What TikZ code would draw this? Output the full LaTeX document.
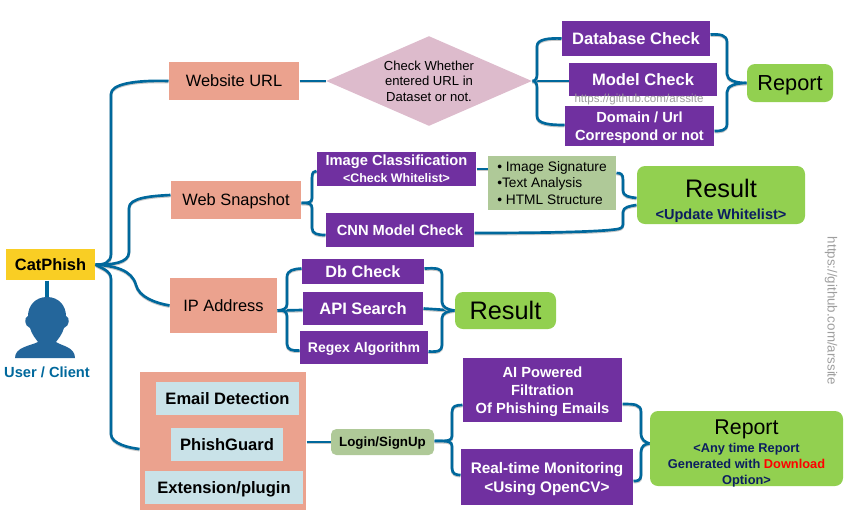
\documentclass[tikz,border=0pt]{standalone}
\usepackage{fontspec}
\setmainfont{Liberation Sans}
\usetikzlibrary{shapes.geometric,calc}
\definecolor{linkblue}{RGB}{0,104,156}
\definecolor{salmon}{RGB}{235,162,142}
\definecolor{plum}{RGB}{112,48,160}
\definecolor{leaf}{RGB}{146,208,80}
\definecolor{sage}{RGB}{175,201,152}
\definecolor{pale}{RGB}{201,226,232}
\definecolor{mauve}{RGB}{221,187,204}
\definecolor{gold}{RGB}{249,206,36}
\definecolor{navy}{RGB}{12,30,96}
\definecolor{iconblue}{RGB}{36,102,155}
\newcommand{\fz}[2]{\fontsize{#1}{#2}\selectfont}
\tikzset{
  every picture/.style={line width=0.75pt},
  size/.style 2 args={minimum width=#1*0.75pt,minimum height=#2*0.75pt,inner sep=0pt,align=center,text depth=0pt},
  salmonbox/.style={fill=salmon,font=\fz{12.3}{14}},
  plumbox/.style={fill=plum,text=white,font=\fz{11}{13.7}\bfseries},
  paleitem/.style={fill=pale,font=\fz{12.4}{15}\bfseries},
  leafbox/.style={fill=leaf,rounded corners=6pt},
  link/.style={draw=linkblue,line width=2pt,line join=round,
    preaction={draw=black!22,line width=2pt,transform canvas={yshift=-0.8pt}}},
  mark text/.style={text=black!38,inner sep=0pt},
}

\begin{document}
\begin{tikzpicture}[x=0.75pt,y=0.75pt,yscale=-1]
\useasboundingbox (0,0) rectangle (848,522);

% Text Node
\node (catphish) [size={89}{31},fill=gold,font=\fz{12.3}{14}\bfseries] at (50.5,264.5) {CatPhish};
\node (website) [salmonbox,size={130}{38}] at (234,81) {Website URL};
\node (snapshot) [salmonbox,size={130}{38}] at (236,200) {Web Snapshot};
\node (ipaddr) [salmonbox,size={107}{55}] at (223.5,305.5) {IP Address};
\node (outerbox) [fill=salmon,size={166}{138}] at (223,441) {};
\node (email) [paleitem,size={143}{33}] at (227.5,398.5) {Email Detection};
\node (guard) [paleitem,size={112}{33}] at (227,444.5) {PhishGuard};
\node (plugin) [paleitem,size={158}{33}] at (224,487.5) {Extension/plugin};

\node (decision) [diamond,aspect=2.28,fill=mauve,size={206}{90},font=\fz{9.8}{11.6}] at (429,81) {Check Whether\\entered URL in\\Dataset or not.};
\node (dbcheck) [plumbox,size={148}{35},font=\fz{12.4}{15}\bfseries] at (636,38.5) {Database Check};
\node (modelcheck) [plumbox,size={148}{33},font=\fz{12.4}{15}\bfseries] at (643,79.5) {Model Check};
\node (domain) [plumbox,size={149}{40},font=\fz{11}{13.7}\bfseries] at (639.5,126) {Domain / Url\\Correspond or not};
\node (report) [leafbox,size={86}{38},font=\fz{16.3}{18}] at (790,83) {Report};

\node (imageclass) [plumbox,size={159}{34}] at (396.5,169) {Image Classification\\[-1pt]{\fz{9.3}{11}\bfseries <Check Whitelist>}};
\node (cnn) [plumbox,size={148}{34}] at (400,230) {CNN Model Check};
\node (signs) [fill=sage,size={128}{54},align=left,font=\fz{10.3}{12.3}] at (552,183) {• Image Signature\\•Text Analysis\\• HTML Structure};
\node (result) [leafbox,size={168}{58},font=\fz{19}{22}] at (721,195) {\rule{0pt}{20pt}Result\\[-5pt]{\fz{10.9}{13}\bfseries\color{navy}<Update Whitelist>}};

\node (dbquery) [plumbox,size={122}{25},font=\fz{12.2}{14}\bfseries] at (363,271.5) {Db Check};
\node (apisearch) [plumbox,size={120}{33},font=\fz{12.4}{14}\bfseries] at (363,308.5) {API Search};
\node (regex) [plumbox,size={128}{33},font=\fz{10.5}{13}\bfseries] at (364,347.5) {Regex Algorithm};
\node (result2) [leafbox,size={101}{37},font=\fz{19}{22}] at (505.5,310.5) {Result};

\node (login) [fill=sage,rounded corners=4pt,size={103}{26},font=\fz{10}{12}\bfseries] at (382.5,442) {Login/SignUp};
\node (filtration) [plumbox,size={159}{64}] at (542.5,390) {AI Powered\\Filtration\\Of Phishing Emails};
\node (monitor) [plumbox,size={172}{56},font=\fz{11.5}{14.2}\bfseries] at (547,477) {Real-time Monitoring\\<Using OpenCV>};
\node (report2) [leafbox,size={193}{75},font=\fz{9.6}{12}\bfseries\color{navy}] at (746.5,448.5) {\rule{0pt}{16pt}{\fz{16}{16}\mdseries\color{black}Report}\\[1.5pt]<Any time Report\\Generated with {\color{red}Download}\\Option>};

\node (user) [font=\fz{11}{13}\bfseries,text=linkblue,inner sep=0pt] at (47,372) {User / Client};
\node (mark1) [mark text,font=\fz{8.7}{10}] at (639,99.5) {https://github.com/arssite};
\node (mark2) [mark text,font=\fz{10}{12},rotate=-90] at (831,311) {https://github.com/arssite};

%Client icon
\coordinate (head) at (47,297);
\draw [linkblue,line width=2.6pt] (catphish.south -| head) -- (head);
\fill [iconblue] (head) .. controls (35,297) and (28,306) .. (28,316) .. controls (24,317) and (24,326) .. (30,328) .. controls (32,335) and (36,339) .. (38,342) .. controls (30,346) and (15,347) .. (15,358) -- (75,358) .. controls (75,347) and (62,346) .. (56,342) .. controls (58,339) and (62,335) .. (64,328) .. controls (70,326) and (70,317) .. (66,316) .. controls (66,306) and (59,297) .. (head) -- cycle;

%Curve Lines from the client box
\draw [link] (catphish.east) .. controls (103,265) and (111,263) .. (111,254) -- (111,94) .. controls (111,84) and (135,80) .. (website.west);
\draw [link] (catphish.east) .. controls (112,265) and (129,263) .. (129,252) -- (129,208) .. controls (129,198) and (150,196) .. ($(snapshot.west)+(0,-5)$);
\draw [link] (catphish.east) .. controls (115,266) and (132,270) .. (136,285) .. controls (139,297) and (155,303) .. (ipaddr.west);
\draw [link] (catphish.east) .. controls (100,268) and (111,270) .. (111,279) -- (111,434) .. controls (111,444) and (130,448) .. ($(outerbox.west)+(0,8)$);

%Website branch
\draw [link] (website.east) -- (decision.west);
\draw [link] (decision.east) -- (modelcheck.west |- decision.east);
\draw [link] (decision.east) .. controls (536,81) and (537,78) .. (537,74) -- (537,46) .. controls (537,39) and (550,38) .. (dbcheck.west);
\draw [link] (decision.east) .. controls (536,81) and (537,84) .. (537,88) -- (537,116) .. controls (537,124) and (550,125) .. ($(domain.west)+(0,-1)$);
\draw [link] ($(dbcheck.east)+(0,-4)$) .. controls (720,34) and (727,35) .. (727,42) -- (727,74) .. controls (727,80) and (735,83) .. (report.west);
\draw [link] ($(domain.east)+(0,5)$) .. controls (720,131) and (727,131) .. (727,124) -- (727,92) .. controls (727,86) and (735,83) .. (report.west);

%Snapshot branch
\draw [link] ($(snapshot.east)+(0,3)$) .. controls (308,203) and (312,203) .. (312,198) -- (312,178) .. controls (312,172) and (314,171) .. (imageclass.west |- 0,171);
\draw [link] ($(snapshot.east)+(0,3)$) .. controls (308,203) and (312,203) .. (312,208) -- (312,228) .. controls (312,234) and (318,235) .. ($(cnn.west)+(0,5)$);
\draw [link] (imageclass.east) -- (signs.west |- imageclass.east);
\draw [link] ($(signs.east)+(0,-10)$) .. controls (621,173) and (623,174) .. (623,180) -- (623,190) .. controls (623,197) and (630,197) .. ($(result.west)+(0,3)$);
\draw [link] ($(cnn.east)+(0,3)$) .. controls (540,233) and (600,232) .. (618,229) .. controls (623,228) and (623,226) .. (623,222) -- (623,212) .. controls (623,207) and (630,206) .. ($(result.west)+(0,10)$);

%IP branch
\draw [link] ($(ipaddr.east)+(0,5)$) -- (apisearch.west |- 0,310);
\draw [link] ($(ipaddr.east)+(0,5)$) .. controls (283,310) and (287,309) .. (287,304) -- (287,277) .. controls (287,270) and (294,269) .. ($(dbquery.west)+(0,-3)$);
\draw [link] ($(ipaddr.east)+(0,5)$) .. controls (283,310) and (287,311) .. (287,316) -- (287,344) .. controls (287,350) and (293,351) .. ($(regex.west)+(0,3)$);
\draw [link] (apisearch.east) -- (result2.west);
\draw [link] ($(dbquery.east)+(0,-3)$) .. controls (436,268) and (442,268) .. (442,274) -- (442,302) .. controls (442,307) and (448,310) .. (result2.west);
\draw [link] ($(regex.east)+(0,4)$) .. controls (438,352) and (442,351) .. (442,345) -- (442,318) .. controls (442,313) and (448,311) .. (result2.west);

%Email branch
\draw [link] ($(outerbox.east)+(0,1)$) -- (login.west);
\draw [link] ($(login.east)+(0,-1)$) .. controls (448,441) and (452,441) .. (452,436) -- (452,412) .. controls (452,406) and (456,405) .. ($(filtration.west)+(0,15)$);
\draw [link] ($(login.east)+(0,-1)$) .. controls (448,441) and (452,441) .. (452,446) -- (452,468) .. controls (452,474) and (456,475) .. ($(monitor.west)+(0,-2)$);
\draw [link] ($(filtration.east)+(0,14)$) .. controls (634,404) and (641,404) .. (641,412) -- (641,433) .. controls (641,440) and (645,442) .. ($(report2.west)+(0,-5)$);
\draw [link] ($(monitor.east)+(0,4)$) .. controls (637,481) and (641,481) .. (641,475) -- (641,452) .. controls (641,446) and (645,444) .. ($(report2.west)+(0,-5)$);

\end{tikzpicture}
\end{document}
